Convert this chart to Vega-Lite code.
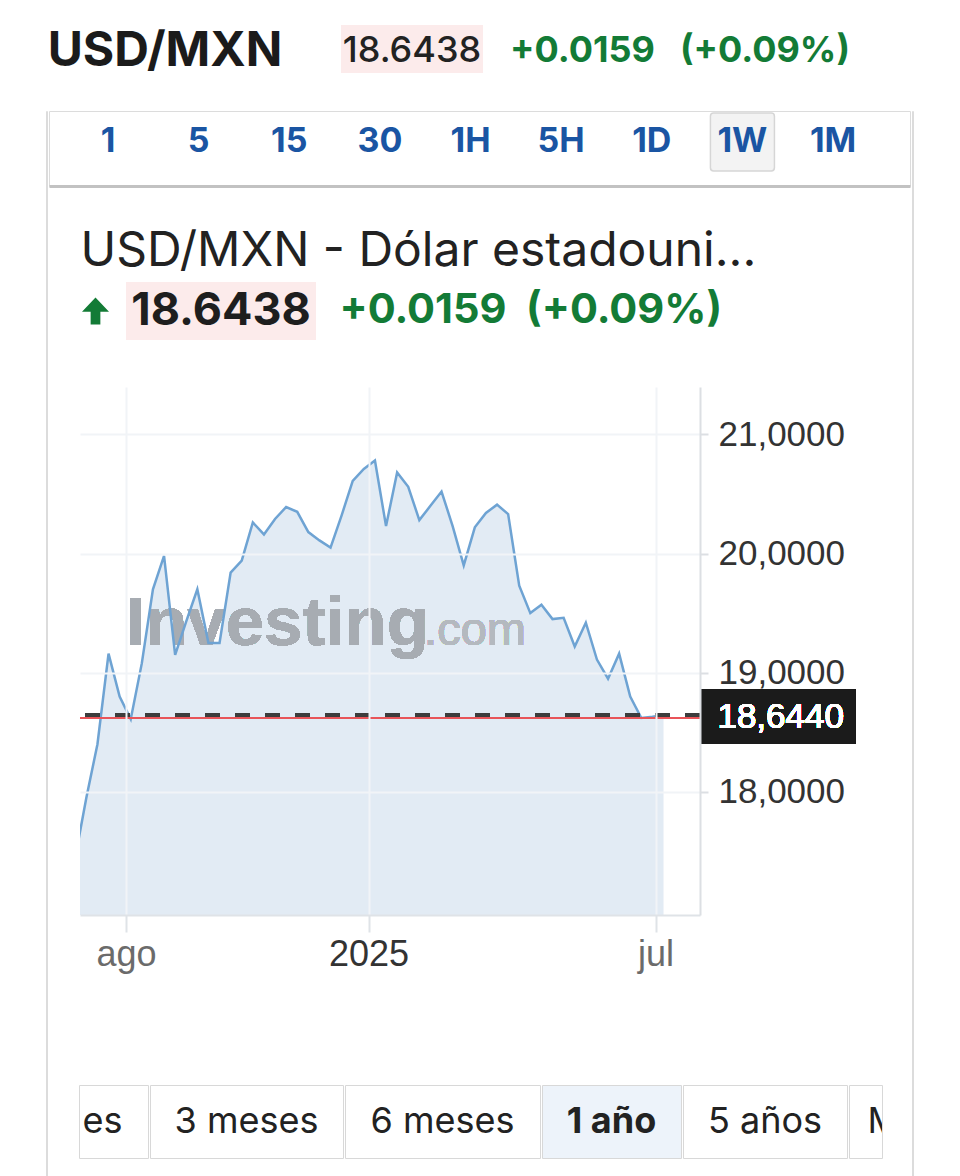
{
  "$schema": "https://vega.github.io/schema/vega-lite/v6.json",
  "background": "white",
  "padding": {"left": 45, "top": 25, "right": 0, "bottom": 0},
  "spacing": 0,
  "config": {"view": {"stroke": null}, "concat": {"spacing": 0}},
  "vconcat": [
    {
      "spacing": 0,
      "hconcat": [
        {"width": 238, "height": 48, "data": {"values": [{"t": "USD/MXN"}]}, "mark": {"type": "text", "font": "Inter", "fontSize": 48, "fontWeight": 700, "color": "#1b1b1b", "dy": 3}, "encoding": {"text": {"field": "t"}}},
        {"width": 57, "height": 1, "data": {"values": [{}]}, "mark": {"type": "text", "text": "", "fontSize": 0}},
        {"width": 142, "height": 48, "view": {"fill": "#fcebeb"}, "data": {"values": [{"t": "18.6438"}]}, "mark": {"type": "text", "font": "Inter", "fontSize": 36, "fontWeight": 500, "color": "#222222", "dy": 2}, "encoding": {"text": {"field": "t"}}},
        {"width": 27, "height": 1, "data": {"values": [{}]}, "mark": {"type": "text", "text": "", "fontSize": 0}},
        {"width": 143, "height": 48, "data": {"values": [{"t": "+0.0159"}]}, "mark": {"type": "text", "font": "Inter", "fontSize": 36, "fontWeight": 700, "color": "#137b36", "dy": 2}, "encoding": {"text": {"field": "t"}}},
        {"width": 25, "height": 1, "data": {"values": [{}]}, "mark": {"type": "text", "text": "", "fontSize": 0}},
        {"width": 168, "height": 48, "data": {"values": [{"t": "(+0.09%)"}]}, "mark": {"type": "text", "font": "Inter", "fontSize": 36, "fontWeight": 700, "color": "#137b36", "dy": 2}, "encoding": {"text": {"field": "t"}}}
      ]
    },
    {"width": 1, "height": 33, "data": {"values": [{}]}, "mark": {"type": "text", "text": "", "fontSize": 0}},
    {
      "spacing": 0,
      "hconcat": [
        {"width": 1, "height": 1066, "view": {"stroke": "#dcdcdc", "strokeWidth": 1}, "data": {"values": [{}]}, "mark": {"type": "text", "text": "", "fontSize": 0}},
        {
          "spacing": 0,
          "vconcat": [
            {
              "width": 861, "height": 75,
              "view": {"stroke": "#dcdcdc", "strokeWidth": 1},
              "data": {"values": [{"b": "1"}, {"b": "5"}, {"b": "15"}, {"b": "30"}, {"b": "1H"}, {"b": "5H"}, {"b": "1D"}, {"b": "1W"}, {"b": "1M"}]},
              "encoding": {
                "x": {"field": "b", "type": "nominal", "scale": {"type": "point", "domain": ["1", "5", "15", "30", "1H", "5H", "1D", "1W", "1M"], "padding": 0.75, "align": 0.434}, "axis": {"labels": false, "ticks": false, "grid": false, "title": null, "domainColor": "#c2c2c2", "domainWidth": 3}},
                "y": {"datum": "r", "type": "nominal", "scale": {"type": "point", "domain": ["r"], "align": 0.413}, "axis": null}
              },
              "layer": [
                {"transform": [{"filter": "datum.b == '1W'"}], "mark": {"type": "point", "shape": "M-0.9,-0.906H0.9Q1,-0.906 1,-0.806V0.806Q1,0.906 0.9,0.906H-0.9Q-1,0.906 -1,0.806V-0.806Q-1,-0.906 -0.9,-0.906Z", "size": 4096, "filled": true, "fill": "#f3f3f3", "stroke": "#d6d6d6", "strokeWidth": 1.5, "opacity": 1}},
                {"mark": {"type": "text", "font": "Inter", "fontSize": 34, "fontWeight": 700, "color": "#1a55a3"}, "encoding": {"text": {"field": "b"}}}
              ]
            },
            {"width": 1, "height": 37, "data": {"values": [{}]}, "mark": {"type": "text", "text": "", "fontSize": 0}},
            {
              "spacing": 0,
              "hconcat": [
                {"width": 31, "height": 1, "data": {"values": [{}]}, "mark": {"type": "text", "text": "", "fontSize": 0}},
                {"width": 1, "height": 56, "data": {"values": [{"t": "USD/MXN - Dólar estadouni..."}]}, "mark": {"type": "text", "align": "left", "font": "Inter", "fontSize": 48, "fontWeight": 400, "color": "#222222"}, "encoding": {"text": {"field": "t"}}}
              ]
            },
            {"width": 1, "height": 2, "data": {"values": [{}]}, "mark": {"type": "text", "text": "", "fontSize": 0}},
            {
              "spacing": 0,
              "hconcat": [
                {"width": 33, "height": 1, "data": {"values": [{}]}, "mark": {"type": "text", "text": "", "fontSize": 0}},
                {"width": 27, "height": 58, "data": {"values": [{}]}, "mark": {"type": "point", "shape": "M0,-1L1,0.05L0.36,0.05L0.36,1L-0.36,1L-0.36,0.05L-1,0.05Z", "size": 729, "filled": true, "color": "#137b36", "opacity": 1}},
                {"width": 17, "height": 1, "data": {"values": [{}]}, "mark": {"type": "text", "text": "", "fontSize": 0}},
                {"width": 190, "height": 58, "view": {"fill": "#fcebeb"}, "data": {"values": [{"t": "18.6438"}]}, "mark": {"type": "text", "font": "Inter", "fontSize": 45, "fontWeight": 700, "color": "#1e1e1e"}, "encoding": {"text": {"field": "t"}}},
                {"width": 23, "height": 1, "data": {"values": [{}]}, "mark": {"type": "text", "text": "", "fontSize": 0}},
                {"width": 1, "height": 58, "data": {"values": [{"t": "+0.0159\u00a0 (+0.09%)"}]}, "mark": {"type": "text", "align": "left", "font": "Inter", "fontSize": 41.5, "fontWeight": 700, "color": "#137b36"}, "encoding": {"text": {"field": "t"}}}
              ]
            },
            {"width": 1, "height": 47, "data": {"values": [{}]}, "mark": {"type": "text", "text": "", "fontSize": 0}},
            {
              "spacing": 0,
              "hconcat": [
                {"width": 29, "height": 1, "data": {"values": [{}]}, "mark": {"type": "text", "text": "", "fontSize": 0}},
                {
                  "width": 620, "height": 528,
                  "data": {"values": [
                    {"date": "2024-06-30", "close": 17.45},
                    {"date": "2024-07-07", "close": 17.95},
                    {"date": "2024-07-14", "close": 18.40},
                    {"date": "2024-07-21", "close": 19.16},
                    {"date": "2024-07-28", "close": 18.80},
                    {"date": "2024-08-04", "close": 18.61},
                    {"date": "2024-08-11", "close": 19.08},
                    {"date": "2024-08-18", "close": 19.70},
                    {"date": "2024-08-25", "close": 19.98},
                    {"date": "2024-09-01", "close": 19.15},
                    {"date": "2024-09-08", "close": 19.43},
                    {"date": "2024-09-15", "close": 19.70},
                    {"date": "2024-09-22", "close": 19.25},
                    {"date": "2024-09-29", "close": 19.25},
                    {"date": "2024-10-06", "close": 19.84},
                    {"date": "2024-10-13", "close": 19.94},
                    {"date": "2024-10-20", "close": 20.26},
                    {"date": "2024-10-27", "close": 20.16},
                    {"date": "2024-11-03", "close": 20.29},
                    {"date": "2024-11-10", "close": 20.39},
                    {"date": "2024-11-17", "close": 20.35},
                    {"date": "2024-11-24", "close": 20.18},
                    {"date": "2024-12-01", "close": 20.11},
                    {"date": "2024-12-08", "close": 20.05},
                    {"date": "2024-12-15", "close": 20.32},
                    {"date": "2024-12-22", "close": 20.61},
                    {"date": "2024-12-29", "close": 20.71},
                    {"date": "2025-01-05", "close": 20.78},
                    {"date": "2025-01-12", "close": 20.23},
                    {"date": "2025-01-19", "close": 20.68},
                    {"date": "2025-01-26", "close": 20.56},
                    {"date": "2025-02-02", "close": 20.28},
                    {"date": "2025-02-09", "close": 20.40},
                    {"date": "2025-02-16", "close": 20.52},
                    {"date": "2025-02-23", "close": 20.23},
                    {"date": "2025-03-02", "close": 19.90},
                    {"date": "2025-03-09", "close": 20.22},
                    {"date": "2025-03-16", "close": 20.34},
                    {"date": "2025-03-23", "close": 20.41},
                    {"date": "2025-03-30", "close": 20.33},
                    {"date": "2025-04-06", "close": 19.73},
                    {"date": "2025-04-13", "close": 19.50},
                    {"date": "2025-04-20", "close": 19.57},
                    {"date": "2025-04-27", "close": 19.45},
                    {"date": "2025-05-04", "close": 19.46},
                    {"date": "2025-05-11", "close": 19.22},
                    {"date": "2025-05-18", "close": 19.42},
                    {"date": "2025-05-25", "close": 19.11},
                    {"date": "2025-06-01", "close": 18.95},
                    {"date": "2025-06-08", "close": 19.16},
                    {"date": "2025-06-15", "close": 18.80},
                    {"date": "2025-06-22", "close": 18.62},
                    {"date": "2025-06-29", "close": 18.63},
                    {"date": "2025-07-06", "close": 18.644}
                  ]},
                  "layer": [
                    {
                      "mark": {"type": "area", "color": "#e2ebf4", "opacity": 1, "clip": true},
                      "encoding": {
                        "x": {"field": "date", "type": "temporal", "title": null,
                          "scale": {"domain": [{"year": 2024, "month": 7, "date": 3}, {"year": 2025, "month": 7, "date": 29}]},
                          "axis": {"orient": "bottom", "title": null,
                            "values": [{"year": 2024, "month": 8, "date": 1}, {"year": 2025, "month": 1, "date": 1}, {"year": 2025, "month": 7, "date": 1}],
                            "labelExpr": "month(datum.value) == 0 ? timeFormat(datum.value, '%Y') : (month(datum.value) == 7 ? 'ago' : 'jul')",
                            "labelFont": "Liberation Sans", "labelFontSize": 36,
                            "labelColor": {"condition": {"test": "month(datum.value) == 0", "value": "#333333"}, "value": "#6b6b6b"},
                            "labelPadding": 5, "labelFlush": false, "labelOverlap": false,
                            "tickSize": 17, "tickColor": "#dfe3e7", "tickWidth": 2,
                            "domainColor": "#dfe3e7", "domainWidth": 2,
                            "grid": true, "gridColor": "#f1f4f7", "gridWidth": 2,
                            "zindex": 1, "minExtent": 169, "maxExtent": 169}},
                        "y": {"field": "close", "type": "quantitative", "title": null,
                          "scale": {"domain": [16.967, 21.397], "zero": false, "nice": false},
                          "axis": {"orient": "right", "title": null, "values": [18, 19, 20, 21],
                            "labelExpr": "replace(format(datum.value, '.4f'), '.', ',')",
                            "labelFont": "Liberation Sans", "labelFontSize": 35, "labelColor": "#333333",
                            "labelPadding": 10, "labelFlush": false,
                            "tickSize": 8, "tickColor": "#dcdfe3", "tickWidth": 2,
                            "domainColor": "#dcdfe3", "domainWidth": 2,
                            "grid": true, "gridColor": "#f1f4f7", "gridWidth": 2, "zindex": 1}},
                        "y2": {"datum": 16.967}
                      }
                    },
                    {
                      "mark": {"type": "text", "text": "Investing", "align": "left", "baseline": "alphabetic", "font": "Liberation Sans", "fontWeight": "bold", "fontSize": 69, "color": "#a7acb2"},
                      "encoding": {"x": {"datum": {"year": 2024, "month": 8, "date": 1}, "type": "temporal"}, "y": {"datum": 19.23, "type": "quantitative"}}
                    },
                    {
                      "mark": {"type": "text", "text": ".com", "align": "left", "baseline": "alphabetic", "font": "Liberation Sans", "fontSize": 47, "color": "#b4b9bf"},
                      "encoding": {"x": {"datum": {"year": 2025, "month": 2, "date": 5}, "type": "temporal"}, "y": {"datum": 19.23, "type": "quantitative"}}
                    },
                    {
                      "mark": {"type": "line", "color": "#6ea3d3", "strokeWidth": 2.5, "clip": true},
                      "encoding": {"x": {"field": "date", "type": "temporal", "title": null}, "y": {"field": "close", "type": "quantitative", "title": null}}
                    },
                    {
                      "mark": {"type": "rule", "color": "#e8555a", "strokeWidth": 1.5},
                      "encoding": {"y": {"datum": 18.62, "type": "quantitative"}}
                    },
                    {
                      "mark": {"type": "rule", "color": "#3d3d3d", "strokeWidth": 3, "strokeDash": [15, 15]},
                      "encoding": {"y": {"datum": 18.644, "type": "quantitative"}}
                    },
                    {
                      "mark": {"type": "rect", "color": "#1b1b1b", "opacity": 1},
                      "encoding": {
                        "x": {"datum": {"year": 2025, "month": 7, "date": 29}, "type": "temporal"},
                        "x2": {"datum": {"year": 2025, "month": 11, "date": 4}},
                        "y": {"datum": 18.859, "type": "quantitative"},
                        "y2": {"datum": 18.402}
                      }
                    },
                    {
                      "mark": {"type": "text", "text": "18,6440", "align": "left", "font": "Liberation Sans", "fontSize": 35, "color": "#ffffff"},
                      "encoding": {"x": {"datum": {"year": 2025, "month": 8, "date": 9}, "type": "temporal"}, "y": {"datum": 18.63, "type": "quantitative"}}
                    }
                  ]
                }
              ]
            },
            {
              "spacing": 0,
              "hconcat": [
                {"width": 29, "height": 1, "data": {"values": [{}]}, "mark": {"type": "text", "text": "", "fontSize": 0}},
                {"width": 69, "height": 73, "view": {"stroke": "#d8d8d8", "strokeWidth": 1}, "data": {"values": [{"t": "es"}]}, "mark": {"type": "text", "font": "Inter", "fontSize": 36, "color": "#222222", "dx": -11}, "encoding": {"text": {"field": "t"}}},
                {"width": 193, "height": 73, "view": {"stroke": "#d8d8d8", "strokeWidth": 1}, "data": {"values": [{"t": "3 meses"}]}, "mark": {"type": "text", "font": "Inter", "fontSize": 36, "color": "#222222"}, "encoding": {"text": {"field": "t"}}},
                {"width": 195, "height": 73, "view": {"stroke": "#d8d8d8", "strokeWidth": 1}, "data": {"values": [{"t": "6 meses"}]}, "mark": {"type": "text", "font": "Inter", "fontSize": 36, "color": "#222222"}, "encoding": {"text": {"field": "t"}}},
                {"width": 139, "height": 73, "view": {"stroke": "#d8d8d8", "strokeWidth": 1, "fill": "#edf3fa"}, "data": {"values": [{"t": "1 año"}]}, "mark": {"type": "text", "font": "Inter", "fontSize": 36, "fontWeight": 700, "color": "#222222"}, "encoding": {"text": {"field": "t"}}},
                {"width": 164, "height": 73, "view": {"stroke": "#d8d8d8", "strokeWidth": 1}, "data": {"values": [{"t": "5 años"}]}, "mark": {"type": "text", "font": "Inter", "fontSize": 36, "color": "#222222"}, "encoding": {"text": {"field": "t"}}},
                {"width": 33, "height": 73, "view": {"stroke": "#d8d8d8", "strokeWidth": 1}, "data": {"values": [{"t": "Máximo"}]}, "mark": {"type": "text", "font": "Inter", "fontSize": 36, "color": "#222222", "align": "left", "dx": 2, "clip": true}, "encoding": {"text": {"field": "t"}}}
              ]
            }
          ]
        },
        {"width": 1, "height": 1066, "view": {"stroke": "#dcdcdc", "strokeWidth": 1}, "data": {"values": [{}]}, "mark": {"type": "text", "text": "", "fontSize": 0}}
      ]
    }
  ]
}
